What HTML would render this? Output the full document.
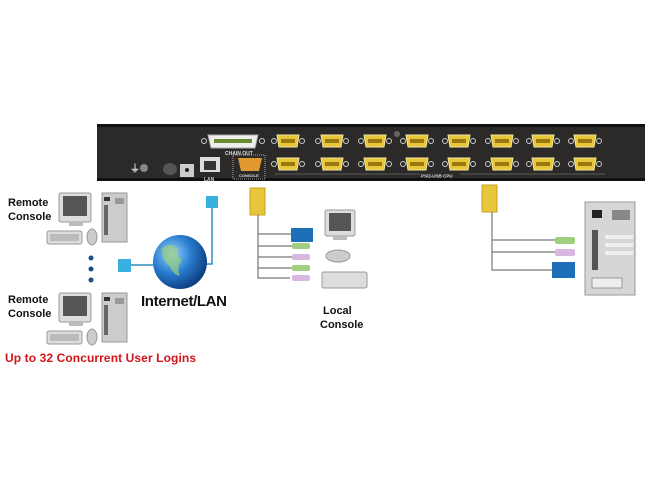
<!DOCTYPE html>
<html><head><meta charset="utf-8"><style>
body{margin:0;background:#fff;}
svg{display:block;}
text{font-family:"Liberation Sans",sans-serif;font-weight:bold;}
</style></head><body>
<svg width="650" height="487" viewBox="0 0 650 487" xmlns="http://www.w3.org/2000/svg">
<defs>
<g id="db">
<circle cx="-14" cy="0" r="2.5" fill="none" stroke="#ccc" stroke-width="1"/>
<circle cx="14" cy="0" r="2.5" fill="none" stroke="#ccc" stroke-width="1"/>
<path d="M-11,-6 H11 L9,6 H-9 Z" fill="#e8c63a" stroke="#f4e6a0" stroke-width="1"/>
<rect x="-7" y="-2" width="14" height="4" fill="#9a7a10"/>
</g>
<g id="pc">
<rect x="16" y="0" width="32" height="29" rx="2" fill="#ddd" stroke="#999"/>
<rect x="20" y="3" width="24" height="20" fill="#555"/>
<rect x="26" y="29" width="14" height="4" fill="#bbb"/>
<rect x="59" y="0" width="25" height="49" fill="#ccc" stroke="#999"/>
<rect x="61" y="4" width="6" height="4" fill="#333"/>
<rect x="72" y="5" width="9" height="6" fill="#999"/>
<rect x="61" y="12" width="4" height="30" fill="#666"/>
<rect x="4" y="38" width="35" height="13" rx="2" fill="#ddd" stroke="#999"/>
<rect x="7" y="41" width="29" height="7" fill="#bbb"/>
<ellipse cx="49" cy="44" rx="5" ry="8" fill="#ccc" stroke="#999"/>
</g>
<radialGradient id="gl" cx="0.35" cy="0.35" r="0.7">
<stop offset="0" stop-color="#9fd4ff"/><stop offset="0.5" stop-color="#2a7fd0"/><stop offset="1" stop-color="#0b3c80"/>
</radialGradient>
</defs>

<rect x="97" y="124" width="548" height="57" fill="#2b2a28"/>
<rect x="97" y="124" width="548" height="3" fill="#111"/>
<rect x="97" y="178" width="548" height="3" fill="#111"/>
<text x="130" y="172" fill="#ccc" font-size="10">⏚</text>
<circle cx="144" cy="168" r="4" fill="#888"/>
<ellipse cx="170" cy="169" rx="7" ry="6" fill="#555"/>
<rect x="180" y="164" width="14" height="13" fill="#ccc"/>
<circle cx="187" cy="170" r="2" fill="#222"/>
<rect x="200" y="157" width="20" height="15" fill="#ddd"/>
<rect x="204" y="161" width="12" height="9" fill="#333"/>
<text x="204" y="181" fill="#ccc" font-size="5">LAN</text>
<path d="M208,135 H258 L255,148 H211 Z" fill="#eee" stroke="#aaa"/>
<rect x="214" y="139" width="38" height="4" fill="#6a8a30"/>
<circle cx="204" cy="141" r="2.5" fill="none" stroke="#ccc"/>
<circle cx="262" cy="141" r="2.5" fill="none" stroke="#ccc"/>
<text x="225" y="155" fill="#ddd" font-size="5">CHAIN OUT</text>
<rect x="233" y="155" width="32" height="24" fill="none" stroke="#aaa" stroke-dasharray="1,1"/>
<path d="M238,158 H262 L259,171 H241 Z" fill="#e09a30"/>
<text x="239" y="177" fill="#ddd" font-size="4">CONSOLE</text>
<g>
<use href="#db" x="288" y="141"/><use href="#db" x="332" y="141"/><use href="#db" x="375" y="141"/><use href="#db" x="417" y="141"/>
<use href="#db" x="459" y="141"/><use href="#db" x="502" y="141"/><use href="#db" x="543" y="141"/><use href="#db" x="585" y="141"/>
<use href="#db" x="288" y="164"/><use href="#db" x="332" y="164"/><use href="#db" x="375" y="164"/><use href="#db" x="417" y="164"/>
<use href="#db" x="459" y="164"/><use href="#db" x="502" y="164"/><use href="#db" x="543" y="164"/><use href="#db" x="585" y="164"/>
</g>
<circle cx="397" cy="134" r="3" fill="#666"/>
<line x1="275" y1="174" x2="605" y2="174" stroke="#888" stroke-width="0.5"/>
<rect x="420" y="173" width="40" height="5" fill="#2b2a28"/>
<text x="421" y="177.5" fill="#ddd" font-size="4.5">PS/2-USB CPU</text>

<use href="#pc" x="43" y="193"/>
<use href="#pc" x="43" y="293"/>
<text x="8" y="206" font-size="11" fill="#111">Remote</text>
<text x="8" y="220" font-size="11" fill="#111">Console</text>
<text x="8" y="303" font-size="11" fill="#111">Remote</text>
<text x="8" y="317" font-size="11" fill="#111">Console</text>
<circle cx="91" cy="258" r="2.5" fill="#1a4a8a"/>
<circle cx="91" cy="269" r="2.5" fill="#1a4a8a"/>
<circle cx="91" cy="280" r="2.5" fill="#1a4a8a"/>
<text x="5" y="362" font-size="12" fill="#d0141a" textLength="191">Up to 32 Concurrent User Logins</text>

<line x1="130" y1="265" x2="160" y2="265" stroke="#2f8fc0" stroke-width="1.5"/>
<polyline points="212,207 212,264 203,264" fill="none" stroke="#2f8fc0" stroke-width="1.5"/>
<rect x="118" y="259" width="13" height="13" fill="#3ab0e0"/>
<rect x="206" y="196" width="12" height="12" fill="#3ab0e0"/>
<circle cx="180" cy="262" r="27" fill="url(#gl)"/>
<path d="M162,248 q8,-6 16,0 q-2,8 4,12 q-6,8 -2,16 q-8,-2 -10,-10 q-8,-4 -8,-18z" fill="#9ad07a" opacity="0.7"/>
<text x="141" y="306" font-size="15" fill="#111" textLength="86">Internet/LAN</text>

<rect x="250" y="188" width="15" height="27" fill="#e8c63a" stroke="#c9a020"/>
<polyline points="258,215 258,278 290,278" fill="none" stroke="#777" stroke-width="1.2"/>
<line x1="258" y1="234" x2="292" y2="234" stroke="#777" stroke-width="1.2"/>
<line x1="258" y1="246" x2="292" y2="246" stroke="#777" stroke-width="1.2"/>
<line x1="258" y1="257" x2="292" y2="257" stroke="#777" stroke-width="1.2"/>
<line x1="258" y1="268" x2="292" y2="268" stroke="#777" stroke-width="1.2"/>
<rect x="291" y="228" width="22" height="14" fill="#1d6fb8"/>
<rect x="292" y="243" width="18" height="6" rx="2" fill="#9fcf7f"/>
<rect x="292" y="254" width="18" height="6" rx="2" fill="#d8b8e0"/>
<rect x="292" y="265" width="18" height="6" rx="2" fill="#9fcf7f"/>
<rect x="292" y="275" width="18" height="6" rx="2" fill="#d8b8e0"/>
<rect x="325" y="210" width="30" height="26" rx="2" fill="#ddd" stroke="#999"/>
<rect x="329" y="213" width="22" height="18" fill="#555"/>
<rect x="333" y="236" width="14" height="4" fill="#bbb"/>
<ellipse cx="338" cy="256" rx="12" ry="6" fill="#ccc" stroke="#999"/>
<rect x="322" y="272" width="45" height="16" rx="2" fill="#ddd" stroke="#999"/>
<text x="323" y="314" font-size="11" fill="#111">Local</text>
<text x="320" y="328" font-size="11" fill="#111">Console</text>

<rect x="482" y="185" width="15" height="27" fill="#e8c63a" stroke="#c9a020"/>
<polyline points="492,212 492,270 553,270" fill="none" stroke="#777" stroke-width="1.2"/>
<line x1="492" y1="240" x2="555" y2="240" stroke="#777" stroke-width="1.2"/>
<line x1="492" y1="252" x2="555" y2="252" stroke="#777" stroke-width="1.2"/>
<rect x="555" y="237" width="20" height="7" rx="2" fill="#9fcf7f"/>
<rect x="555" y="249" width="20" height="7" rx="2" fill="#d8b8e0"/>
<rect x="552" y="262" width="23" height="16" fill="#1d6fb8"/>
<rect x="585" y="202" width="50" height="93" fill="#d6d6d6" stroke="#999"/>
<rect x="592" y="210" width="10" height="8" fill="#222"/>
<rect x="612" y="210" width="18" height="10" fill="#888"/>
<rect x="592" y="230" width="6" height="40" fill="#555"/>
<rect x="605" y="235" width="28" height="4" fill="#eee"/>
<rect x="605" y="243" width="28" height="4" fill="#eee"/>
<rect x="605" y="251" width="28" height="4" fill="#eee"/>
<rect x="592" y="278" width="30" height="10" fill="#eee" stroke="#999"/>
</svg>
</body></html>
